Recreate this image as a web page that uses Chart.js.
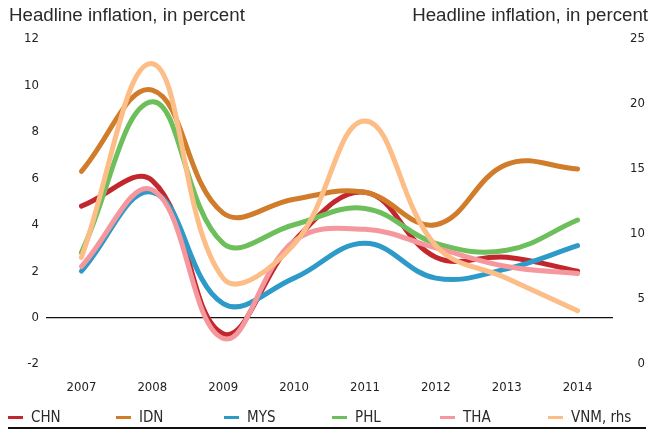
<!DOCTYPE html>
<html>
<head>
<meta charset="utf-8">
<script src="https://cdn.jsdelivr.net/npm/chart.js@4.4.1/dist/chart.umd.min.js"></script>
<style>
  html, body { margin: 0; padding: 0; background: #fff; }
  #wrap { position: relative; width: 652px; height: 429px; overflow: hidden; background: #fff; }
  #c { position: absolute; left: 0; top: 0; }
  .title { position: absolute; top: 4px; font-family: "Liberation Sans", Arial, sans-serif; font-size: 18.7px; color: #2a2a2a; white-space: nowrap; }
  #tl { left: 9px; }
  #tr { right: 4px; }
  #legend { position: absolute; left: 0; top: 408px; width: 652px; height: 18px; font-family: "Liberation Sans Narrow", "DejaVu Sans Condensed", sans-serif; font-size: 15px; color: #2a2a2a; }
  .item { position: absolute; top: 0; height: 18px; display: flex; align-items: center; white-space: nowrap; }
  .mark { width: 15px; height: 3px; margin-right: 8px; }
  #rule { position: absolute; left: 8px; right: 6px; top: 427px; height: 1.5px; background: #111; }
</style>
</head>
<body>
<div id="wrap">
  <canvas id="c" width="652" height="429"></canvas>
  <div class="title" id="tl">Headline inflation, in percent</div>
  <div class="title" id="tr">Headline inflation, in percent</div>
  <div id="legend"></div>
  <div id="rule"></div>
</div>
<script>
// ---- data ----
const years = ['2007', '2008', '2009', '2010', '2011', '2012', '2013', '2014'];
const CHN = [4.8, 5.9, -0.7, 3.3, 5.4, 2.6, 2.6, 2.0];
const IDN = [6.3, 9.8, 4.5, 5.1, 5.4, 4.0, 6.6, 6.4];
const MYS = [2.0, 5.4, 0.6, 1.7, 3.2, 1.7, 2.1, 3.1];
const PHL = [2.8, 9.3, 3.2, 4.0, 4.7, 3.2, 2.9, 4.2];
const THA = [2.2, 5.5, -0.9, 3.3, 3.8, 3.0, 2.2, 1.9];
const VNM = [8.2, 23.1, 6.6, 9.2, 18.7, 9.1, 6.6, 4.1];
const seriesNames = ['CHN', 'IDN', 'MYS', 'PHL', 'THA', 'VNM, rhs'];
const seriesData = [CHN, IDN, MYS, PHL, THA, VNM];
const seriesAxis = ['yL', 'yL', 'yL', 'yL', 'yL', 'yR'];
const leftTicks = [-2, 0, 2, 4, 6, 8, 10, 12];
const rightTicks = [0, 5, 10, 15, 20, 25];

// ---- styles ----
const seriesColors = ['#c1272d', '#d07c2b', '#2e9ac8', '#6cbf5a', '#f4989e', '#fdbd86'];
const tickFont = { family: '"Liberation Sans Narrow", "DejaVu Sans Condensed", sans-serif', size: 13 };

const datasets = seriesData.map((d, i) => ({
  label: seriesNames[i],
  data: d,
  yAxisID: seriesAxis[i],
  borderColor: seriesColors[i],
  backgroundColor: seriesColors[i],
  borderWidth: 5,
  borderCapStyle: 'round',
  borderJoinStyle: 'round',
  pointRadius: 0,
  tension: 0.4,
  fill: false,
  order: seriesData.length - i
}));

new Chart(document.getElementById('c'), {
  type: 'line',
  data: { labels: years, datasets },
  options: {
    responsive: false,
    animation: false,
    devicePixelRatio: 1,
    layout: { padding: { left: 0, right: 7, top: 39, bottom: 29 } },
    plugins: { legend: { display: false }, tooltip: { enabled: false } },
    scales: {
      x: {
        offset: true,
        grid: { display: false, drawTicks: false },
        border: { display: false },
        ticks: { font: tickFont, color: '#222', padding: 16, maxRotation: 0 },
        afterFit: s => { s.height = 36; }
      },
      yL: {
        position: 'left',
        min: leftTicks[0], max: leftTicks[leftTicks.length - 1],
        afterBuildTicks: s => { s.ticks = leftTicks.map(v => ({ value: v })); },
        grid: {
          drawTicks: false,
          color: c => (c.tick && c.tick.value === 0) ? '#111' : 'rgba(0,0,0,0)',
          lineWidth: 1.3
        },
        border: { display: false },
        ticks: { font: tickFont, color: '#222', padding: 7 },
        afterFit: s => { s.width = 46; }
      },
      yR: {
        position: 'right',
        min: rightTicks[0], max: rightTicks[rightTicks.length - 1],
        afterBuildTicks: s => { s.ticks = rightTicks.map(v => ({ value: v })); },
        grid: { display: false, drawTicks: false },
        border: { display: false },
        ticks: { font: tickFont, color: '#222', crossAlign: 'far', padding: 0 },
        afterFit: s => { s.width = 32; }
      }
    }
  }
});

// ---- legend (HTML) ----
const legend = document.getElementById('legend');
seriesNames.forEach((name, i) => {
  const item = document.createElement('div');
  item.className = 'item';
  item.style.left = (8 + i * 108) + 'px';
  const m = document.createElement('span');
  m.className = 'mark';
  m.style.background = seriesColors[i];
  const t = document.createElement('span');
  t.textContent = name;
  item.appendChild(m);
  item.appendChild(t);
  legend.appendChild(item);
});
</script>
</body>
</html>
